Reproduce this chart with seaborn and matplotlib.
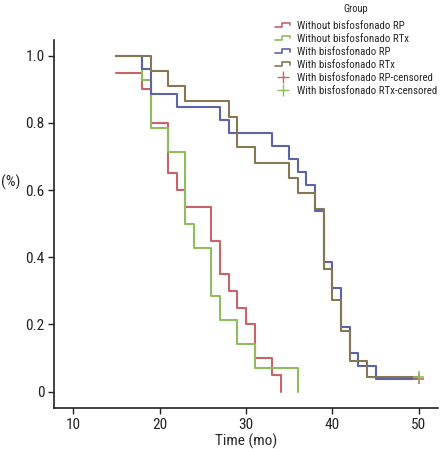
import pandas as pd
import seaborn as sns
import matplotlib.pyplot as plt
from matplotlib import font_manager
from matplotlib.lines import Line2D
from matplotlib.legend_handler import HandlerBase

# survival steps (time in months, proportion)
red_t = [15, 18, 19, 21, 22, 23, 26, 27, 28, 29, 30, 31, 33, 34]
red_s = [0.95, 0.90, 0.80, 0.65, 0.60, 0.55, 0.45, 0.35, 0.30, 0.25, 0.20, 0.10, 0.05, 0.0]

green_t = [15, 18, 19, 21, 23, 24, 26, 27, 29, 31, 36]
green_s = [1.0, 0.929, 0.786, 0.714, 0.5, 0.429, 0.286, 0.214, 0.143, 0.071, 0.0]

blue_t = [15, 18, 19, 22, 27, 28, 33, 35, 36, 37, 38, 39, 40, 41, 42, 43, 45, 50]
blue_s = [1.0, 0.962, 0.885, 0.846, 0.808, 0.769, 0.731, 0.692, 0.654, 0.615,
          0.538, 0.385, 0.308, 0.192, 0.115, 0.077, 0.038, 0.038]

brown_t = [15, 19, 21, 23, 28, 29, 31, 35, 36, 38, 39, 40, 41, 42, 44, 50]
brown_s = [1.0, 0.955, 0.909, 0.864, 0.818, 0.727, 0.682, 0.636, 0.591, 0.545,
           0.364, 0.273, 0.182, 0.091, 0.045, 0.045]

groups = ["Without bisfosfonado RP", "Without bisfosfonado RTx",
          "With bisfosfonado RP", "With bisfosfonado RTx"]
cens_labels = ["With bisfosfonado RP-censored", "With bisfosfonado RTx-censored"]
cens_t = [50, 50]
cens_s = [0.038, 0.045]

colors = ["#c9636a", "#8dbd5c", "#5d63a8", "#877653"]

xticks = [10, 20, 30, 40, 50]
yticks = [0, 0.2, 0.4, 0.6, 0.8, 1.0]
ytick_labels = ["0", "0.2", "0.4", "0.6", "0.8", "1.0"]

# long-form table
frames = []
for g, t, s in zip(groups, [red_t, green_t, blue_t, brown_t], [red_s, green_s, blue_s, brown_s]):
    frames.append(pd.DataFrame({"time": t, "surv": s, "group": g}))
df = pd.concat(frames, ignore_index=True)
cens = pd.DataFrame({"time": cens_t, "surv": cens_s, "group": cens_labels})

sns.set_theme(style="ticks")
# narrow-ish font if one is around
installed = {f.name for f in font_manager.fontManager.ttflist}
font = next((f for f in ["Roboto Condensed", "Liberation Sans Narrow", "Arial Narrow", "Roboto"]
             if f in installed), "DejaVu Sans")
plt.rcParams["font.family"] = [font, "DejaVu Sans"]

fig = plt.figure(figsize=(4.4, 4.49), dpi=100)
ax = fig.add_axes([0.123, 0.091, 0.872, 0.82])

sns.lineplot(data=df, x="time", y="surv", hue="group", hue_order=groups,
             palette=colors, estimator=None, sort=False, drawstyle="steps-post",
             linewidth=1.5, legend=False, ax=ax)
sns.scatterplot(data=cens, x="time", y="surv", hue="group", hue_order=cens_labels,
                palette=colors[:2], marker="+", s=60, linewidth=1.2,
                legend=False, ax=ax, zorder=5)

ax.set_xlim(7.8, 52.2)
ax.set_ylim(-0.049, 1.047)
ax.set_xticks(xticks)
ax.set_yticks(yticks)
ax.set_yticklabels(ytick_labels)
ax.tick_params(labelsize=11, length=4, width=1, colors="#222222", pad=3)
ax.set_xlabel("Time (mo)", fontsize=11, labelpad=1)
ax.set_ylabel("(%)", fontsize=11, rotation=0)
ax.yaxis.set_label_coords(-0.113, 0.592)
for sp in ["top", "right"]:
    ax.spines[sp].set_visible(False)
for sp in ["left", "bottom"]:
    ax.spines[sp].set_linewidth(1.2)
    ax.spines[sp].set_color("#222222")


class StepHandler(HandlerBase):
    def create_artists(self, legend, orig_handle, xdescent, ydescent,
                       width, height, fontsize, trans):
        xs = [0, 0.45 * width, 0.45 * width, width, width]
        ys = [0.3 * height, 0.3 * height, 0.75 * height, 0.75 * height, 0.45 * height]
        ln = Line2D([x - xdescent for x in xs], [y - ydescent for y in ys],
                    color=orig_handle.get_color(), linewidth=1.2, transform=trans)
        return [ln]


handles = [Line2D([], [], color=c) for c in colors]
handles += [Line2D([], [], color=c, marker="+", linestyle="none", markersize=8)
            for c in colors[:2]]
hmap = {h: StepHandler() for h in handles[:4]}
leg = fig.legend(handles, groups + cens_labels, title="Group", loc="upper left",
                 bbox_to_anchor=(0.603, 1.013), frameon=False, fontsize=7.8,
                 title_fontsize=7.5, handlelength=1.4, handletextpad=0.6,
                 labelspacing=0.28, handler_map=hmap)
leg._legend_box.sep = 5

fig.savefig("out.png", dpi=100)
